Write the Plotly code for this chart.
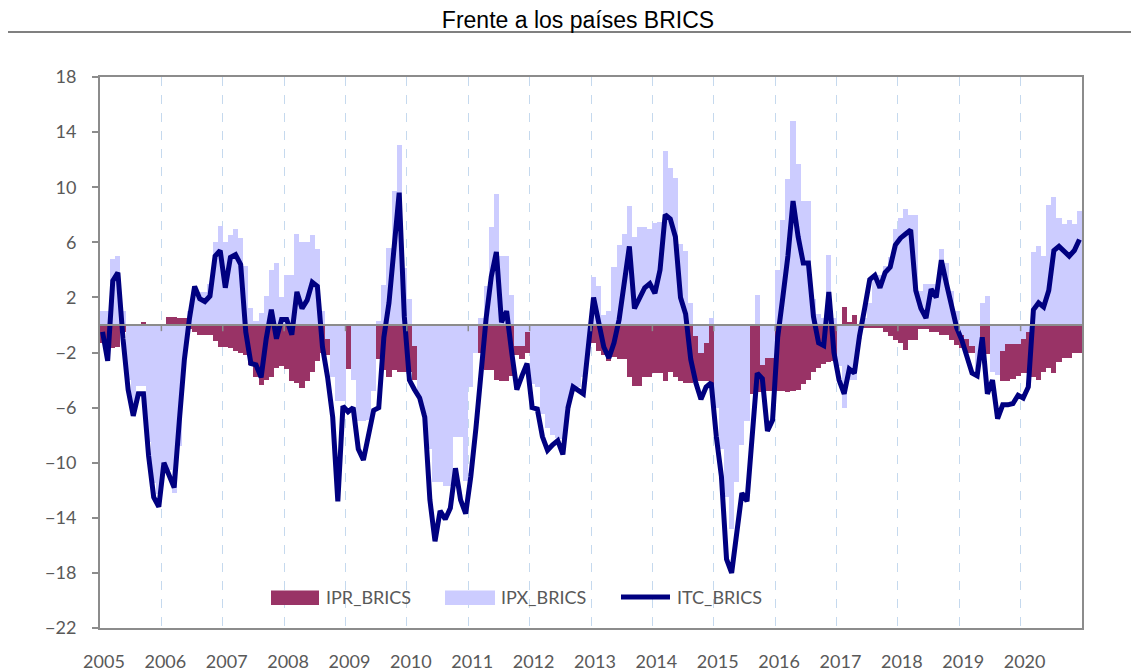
import plotly.graph_objects as go

# ---------------- data (monthly, Jan-2005 .. Dec-2020) ----------------
start_year = 2005
years = list(range(2005, 2021))
year_labels = [str(y) for y in years]
y_ticks = [-22, -18, -14, -10, -6, -2, 2, 6, 10, 14, 18]

ipr_brics = [
    -1.3, -1.5, -1.7, -1.6, -0.5, -0.2, -0.2, -0.2, 0.2, -0.2, -0.2, -0.2,      # 2005
    0.0, 0.6, 0.6, 0.5, 0.5, -0.3, -0.5, -0.7, -0.7, -0.7, -1.2, -1.6,          # 2006
    -1.6, -1.7, -1.9, -2.0, -2.2, -2.9, -3.75, -4.35, -4.0, -3.75, -3.1, -3.0,  # 2007
    -3.2, -4.1, -4.2, -4.6, -4.1, -3.4, -2.6, -2.0, -2.2, -0.5, -0.5, -0.5,     # 2008
    -3.2, -0.5, -0.3, -0.3, -0.3, -0.5, -2.5, -3.3, -3.8, -3.3, -3.4, -3.4,     # 2009
    -3.4, -4.0, -0.5, -0.3, -0.3, -0.3, -0.3, -0.3, -0.3, -0.3, -0.3, -0.3,     # 2010
    -0.3, -0.5, -2.0, -3.3, -3.3, -4.0, -4.1, -4.1, -3.7, -2.2, -2.5, -2.0,     # 2011
    -0.3, -0.3, -0.3, -0.3, -0.3, -0.3, -0.3, -0.3, -0.3, -0.3, -0.3, -0.5,     # 2012
    -1.3, -1.9, -2.2, -2.6, -2.3, -2.5, -2.5, -3.8, -4.4, -4.4, -3.8, -3.8,     # 2013
    -3.5, -3.5, -4.1, -3.4, -3.75, -4.1, -4.2, -4.2, -4.0, -4.1, -4.1, -4.55,   # 2014
    -4.5, -4.5, -4.5, -4.5, -4.5, -4.5, -4.5, -5.0, -4.9, -4.9, -4.8, -4.8,     # 2015
    -4.8, -4.8, -4.9, -4.8, -4.7, -4.3, -4.0, -3.4, -3.1, -2.8, -2.7, -2.6,     # 2016
    -0.3, 1.3, 0.2, 0.7, -0.2, -0.2, -0.2, -0.2, -0.2, -0.5, -0.8, -1.1,        # 2017
    -1.3, -1.8, -1.1, -1.1, -0.3, -0.3, -0.5, -0.5, -0.7, -0.7, -1.1, -1.45,    # 2018
    -1.7, -2.0, -2.0, -2.1, -1.3, -2.1, -2.8, -3.0, -4.1, -4.1, -3.9, -3.7,     # 2019
    -3.5, -3.5, -3.75, -4.0, -3.4, -3.15, -3.5, -2.7, -2.4, -2.4, -2.0, -2.0,   # 2020
]

ipx_brics = [
    1.0, 1.0, 4.8, 5.0, 1.0, -4.0, -6.0, -4.4, -4.4, -8.5, -11.5, -12.3,        # 2005
    -10.0, -10.5, -12.2, -8.8, -2.5, 1.0, 2.6, 2.4, 2.4, 3.0, 6.0, 7.2,         # 2006
    6.0, 6.5, 7.0, 6.3, 4.3, 1.2, 0.3, 0.9, 2.1, 4.0, 4.5, 2.0,                 # 2007
    3.6, 3.6, 6.6, 6.0, 6.0, 6.5, 5.5, 1.0, -1.0, -3.8, -5.5, -5.5,             # 2008
    0.0, -4.0, -7.0, -7.0, -6.9, -4.8, 0.3, 2.9, 5.6, 9.7, 13.1, 4.1,           # 2009
    1.9, -1.5, -5.3, -6.5, -9.0, -11.4, -11.4, -11.7, -11.7, -8.1, -8.1, -11.3, # 2010
    -4.5, -2.0, 0.5, 2.8, 7.1, 9.5, 5.0, 5.0, 2.2, -1.5, -1.5, -0.5,            # 2011
    -4.3, -4.5, -6.5, -7.5, -8.0, -8.2, -8.3, -6.0, -4.4, -4.5, -3.8, -1.5,     # 2012
    3.5, 2.8, 0.7, 1.0, 4.2, 5.8, 6.6, 8.6, 6.4, 7.1, 7.1, 7.0,                 # 2013
    7.4, 7.5, 12.6, 11.4, 10.7, 5.9, 5.4, 1.6, -0.8, -2.0, -1.3, 0.5,           # 2014
    -6.0, -9.0, -12.5, -14.8, -11.4, -8.7, -7.0, 0.0, 2.2, -2.9, -2.4, -2.4,    # 2015
    4.0, 7.6, 10.6, 14.8, 11.7, 9.0, 9.0, 1.9, 0.8, 0.5, 5.1, 0.5,              # 2016
    -3.0, -6.0, -4.0, -4.0, -1.0, 0.5, 1.6, 3.6, 3.6, 4.3, 4.9, 7.0,            # 2017
    7.8, 8.4, 8.0, 8.0, 2.5, 3.0, 3.0, 3.0, 5.5, 4.5, 2.5, 1.0,                 # 2018
    -0.7, -1.0, -1.5, -3.3, 1.6, 2.1, -3.4, -3.6, -1.9, -1.4, -1.4, -1.4,       # 2019
    -1.0, -0.5, 5.3, 5.7, 5.0, 8.7, 9.3, 7.8, 7.3, 7.6, 7.3, 8.3,               # 2020
]

itc_brics = [
    -0.5, -2.6, 3.2, 3.8, -1.0, -4.7, -6.6, -5.0, -5.0, -9.5, -12.5, -13.2,     # 2005
    -10.0, -10.8, -11.8, -7.0, -2.5, 0.5, 2.8, 1.9, 1.7, 2.1, 5.0, 5.4,         # 2006
    2.7, 4.9, 5.1, 4.4, -0.5, -2.8, -2.9, -3.8, -1.0, 1.1, -1.0, 0.4,           # 2007
    0.4, -0.7, 2.4, 1.2, 1.8, 3.1, 2.8, -1.6, -3.8, -6.7, -12.8, -5.9,          # 2008
    -6.3, -6.0, -9.0, -9.8, -8.0, -6.2, -6.0, -0.9, 1.6, 5.7, 9.6, 0.6,         # 2009
    -4.0, -4.7, -5.3, -6.7, -12.7, -15.7, -13.5, -14.1, -13.3, -10.4, -12.7, -13.7,  # 2010
    -11.0, -7.5, -3.5, 0.5, 3.5, 5.3, 0.2, 1.0, -2.0, -4.7, -3.7, -2.8,         # 2011
    -6.0, -6.1, -8.1, -9.1, -8.7, -8.4, -9.4, -6.0, -4.5, -4.8, -5.0, -1.5,     # 2012
    2.0, 0.2, -1.6, -2.4, -1.3, 0.4, 3.2, 5.7, 1.2, 2.0, 2.7, 3.0,              # 2013
    2.3, 4.0, 8.0, 7.7, 6.4, 2.0, 0.8, -2.5, -4.2, -5.4, -4.5, -4.2,            # 2014
    -8.1, -11.0, -17.0, -18.0, -14.9, -12.2, -12.8, -8.2, -3.5, -3.9, -7.7, -6.9,  # 2015
    -0.9, 2.0, 5.0, 9.0, 6.4, 4.5, 4.5, 0.6, -1.3, -1.5, 2.4, -2.0,             # 2016
    -4.0, -5.0, -3.2, -3.5, -0.8, 1.2, 3.3, 3.6, 2.7, 3.8, 4.2, 5.8,            # 2017
    6.3, 6.6, 6.9, 2.5, 1.2, 0.5, 2.6, 2.0, 4.7, 3.0, 1.2, -0.2,                # 2018
    -1.1, -2.3, -3.5, -3.7, -0.9, -5.0, -4.0, -6.8, -5.8, -5.8, -5.7, -5.1,     # 2019
    -5.3, -4.5, 1.1, 1.6, 1.3, 2.5, 5.4, 5.7, 5.3, 5.0, 5.4, 6.2,               # 2020
]

# month positions on a decimal-year axis (centre of each month)
months_x = [start_year + (i + 0.5) / 12 for i in range(len(itc_brics))]

# ---------------- styling ----------------
C_IPR = "#993366"
C_IPX = "#CCCCFF"
C_ITC = "#000080"
AXIS_GREY = "#8C8C8C"
TXT = "#595959"
FONT = "Lato, 'Open Sans', sans-serif"

fig = go.Figure()
fig.add_trace(go.Bar(x=months_x, y=ipr_brics, width=1 / 12, name="IPR_BRICS",
                     marker=dict(color=C_IPR, line=dict(width=0)), showlegend=False))
fig.add_trace(go.Bar(x=months_x, y=ipx_brics, width=1 / 12, name="IPX_BRICS",
                     marker=dict(color=C_IPX, line=dict(width=0)), showlegend=False))
fig.add_trace(go.Scatter(x=months_x, y=itc_brics, mode="lines", name="ITC_BRICS",
                         line=dict(color=C_ITC, width=5), showlegend=False))

# the page body adds an 8px offset, so the figure is laid out in page px minus 8
OFF = 8
W, H = 1139 - OFF, 671 - OFF
L, T = 100 - OFF, 77 - OFF
pw, ph = 982, 551
R, B = W - L - pw, H - T - ph


def px_x(px):          # page pixel -> paper x
    return (px - OFF - L) / pw


def px_y(py):          # page pixel -> paper y
    return (T + ph - (py - OFF)) / ph


shapes = []
# zero line (drawn above the bars)
shapes.append(dict(type="line", xref="paper", yref="y", x0=0, x1=1, y0=0, y1=0,
                   line=dict(color=AXIS_GREY, width=2), layer="above"))
# small tick marks on the zero line at each year boundary
for yv in years[1:]:
    shapes.append(dict(type="line", xref="x", yref="y", x0=yv, x1=yv, y0=0, y1=-0.45,
                       line=dict(color=AXIS_GREY, width=1.5), layer="above"))
# rule under the title
shapes.append(dict(type="line", xref="paper", yref="paper",
                   x0=px_x(8), x1=px_x(1132), y0=px_y(32), y1=px_y(32),
                   line=dict(color="#808080", width=2)))

# custom legend
leg_y = 597
shapes.append(dict(type="rect", xref="paper", yref="paper",
                   x0=px_x(271), x1=px_x(319), y0=px_y(605), y1=px_y(590.5),
                   fillcolor=C_IPR, line=dict(width=0), layer="above"))
shapes.append(dict(type="rect", xref="paper", yref="paper",
                   x0=px_x(445), x1=px_x(495), y0=px_y(605), y1=px_y(590.5),
                   fillcolor=C_IPX, line=dict(width=0), layer="above"))
shapes.append(dict(type="line", xref="paper", yref="paper",
                   x0=px_x(621), x1=px_x(670), y0=px_y(leg_y), y1=px_y(leg_y),
                   line=dict(color=C_ITC, width=5), layer="above"))

annotations = []
for txt, xpx in (("IPR_BRICS", 324), ("IPX_BRICS", 499), ("ITC_BRICS", 675)):
    annotations.append(dict(text=txt, xref="paper", yref="paper", x=px_x(xpx), y=px_y(leg_y),
                            xanchor="left", yanchor="middle", showarrow=False,
                            font=dict(family=FONT, size=18, color=TXT)))

fig.update_layout(
    width=W, height=H, autosize=False,
    margin=dict(l=L, r=R, t=T, b=B, autoexpand=False),
    paper_bgcolor="white", plot_bgcolor="white",
    barmode="overlay", bargap=0,
    title=dict(text="Frente a los países BRICS", x=(578 - OFF) / W, xanchor="center",
               xref="container", yref="container", y=1 - (20 - OFF) / H, yanchor="middle",
               font=dict(family="'Liberation Sans', Arial, sans-serif", size=23, color="black")),
    shapes=shapes,
    annotations=annotations,
    xaxis=dict(
        range=[start_year, years[-1] + 1],
        tickmode="array",
        tickvals=[yv + 0.065 for yv in years],
        ticktext=year_labels,
        ticks="", showgrid=False, zeroline=False, automargin=False,
        showline=True, linecolor=AXIS_GREY, linewidth=2, mirror=True,
        tickfont=dict(family=FONT, size=18, color=TXT),
        ticklabelstandoff=16,
        minor=dict(tickmode="array", tickvals=years[1:], showgrid=True,
                   gridcolor="#C5D9EE", griddash="dash", gridwidth=1, ticks=""),
    ),
    yaxis=dict(
        range=[-22, 18],
        tickmode="array", tickvals=y_ticks,
        ticks="outside", ticklen=6, tickcolor=AXIS_GREY, tickwidth=1.5,
        showgrid=False, zeroline=False, automargin=False,
        showline=True, linecolor=AXIS_GREY, linewidth=2, mirror=True,
        tickfont=dict(family=FONT, size=18, color=TXT),
        ticklabelstandoff=12,
    ),
)

fig.write_html("out.html")
